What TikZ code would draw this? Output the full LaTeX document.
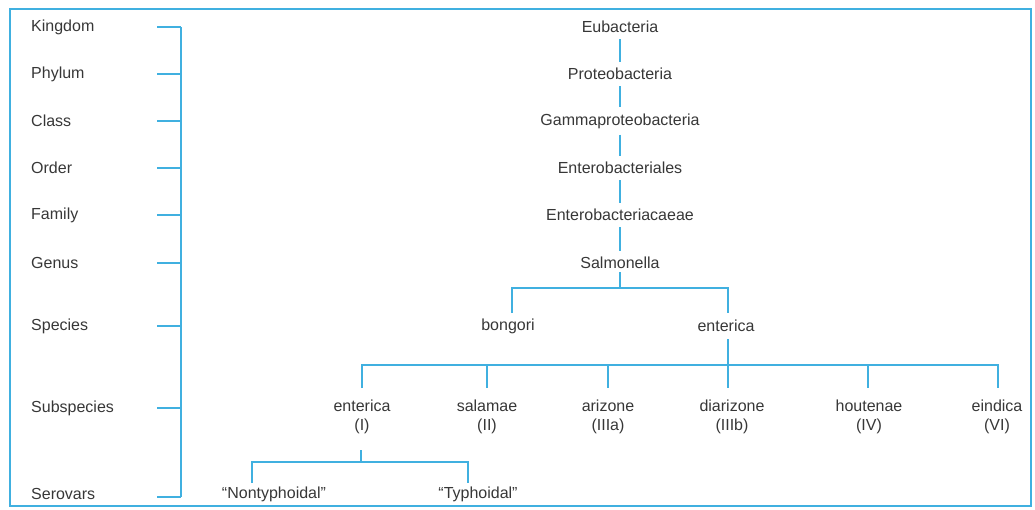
\documentclass[tikz,border=0pt]{standalone}
\usepackage{fontspec}
\setmainfont{Liberation Sans}
\definecolor{lineblue}{RGB}{64,176,224}
\definecolor{txtgray}{RGB}{55,55,55}
\begin{document}
\begin{tikzpicture}[x=1pt,y=-1pt,
  lbl/.style={font=\fontsize{16}{19}\selectfont, text=txtgray, inner sep=1pt},
  rank/.style={lbl, anchor=west},
  taxon/.style={lbl, align=center},
  conn/.style={draw=lineblue, line width=2.8pt},
  dconn/.style={draw=lineblue, line width=2.6pt},
  frame/.style={draw=lineblue, line width=2.8pt}]
\useasboundingbox (0,0) rectangle (1035,509);
\draw[frame] (10,9) rectangle (1031,506);

% rank labels
\node[rank] (rK) at (30,27) {Kingdom};
\node[rank] (rP) at (30,74) {Phylum};
\node[rank] (rC) at (30,121) {Class};
\node[rank] (rO) at (30,168) {Order};
\node[rank] (rF) at (30,215) {Family};
\node[rank] (rG) at (30,263) {Genus};
\node[rank] (rS) at (30,326) {Species};
\node[rank] (rSS) at (30,408) {Subspecies};
\node[rank] (rSV) at (30,494) {Serovars};

% bracket
\coordinate (bT) at (181,27);
\coordinate (bB) at (181,497);
\draw[conn] (bT) -- (bB);
\foreach \y/\n in {27/a,74/b,121/c,168/d,215/e,263/f,326/g,408/h,497/i}{
  \coordinate (t\n) at (157,\y);
  \coordinate (u\n) at (181,\y);
  \draw[conn] (t\n) -- (u\n);
}

% main column
\node[taxon] (eub) at (620,27) {Eubacteria};
\node[taxon] (pro) at (620,74) {Proteobacteria};
\node[taxon] (gam) at (620,121) {Gammaproteobacteria};
\node[taxon] (ent) at (620,168) {Enterobacteriales};
\node[taxon] (enc) at (620,215) {Enterobacteriacaeae};
\node[taxon] (sal) at (620,263) {Salmonella};
\foreach \a/\b in {eub/pro,pro/gam,gam/ent,ent/enc,enc/sal}{
  \draw[dconn] ([yshift=-5pt]\a.south) -- ([yshift=5pt]\b.north);
}

% species
\node[taxon] (bon) at (508,326) {bongori};
\node[taxon] (ens) at (726,326) {enterica};
\coordinate (sH) at (620,288);
\draw[conn] ([yshift=-2pt]sal.south) -- (sH);
\draw[conn] (512,313) |- (728,288) -- (728,313);

% subspecies
\node[taxon] (s1) at (362,417) {enterica\\(I)};
\node[taxon] (s2) at (487,417) {salamae\\(II)};
\node[taxon] (s3) at (608,417) {arizone\\(IIIa)};
\node[taxon] (s4) at (732,417) {diarizone\\(IIIb)};
\node[taxon] (s5) at (869,417) {houtenae\\(IV)};
\node[taxon] (s6) at (997,417) {eindica\\(VI)};
\coordinate (eH) at (728,365);
\draw[conn] ([yshift=-6pt]ens.south -| eH) -- (728,388);
\draw[conn] (362,388) |- (998,365) -- (998,388);
\foreach \x in {487,608,868}{
  \draw[conn] (\x,365) -- (\x,388);
}

% serovars
\node[lbl] (nt) at (274,494) {“Nontyphoidal”};
\node[lbl] (ty) at (478,494) {“Typhoidal”};
\coordinate (vH) at (361,462);
\draw[conn] (361,450) -- (vH);
\draw[conn] (252,483) |- (468,462) -- (468,483);
\end{tikzpicture}
\end{document}
